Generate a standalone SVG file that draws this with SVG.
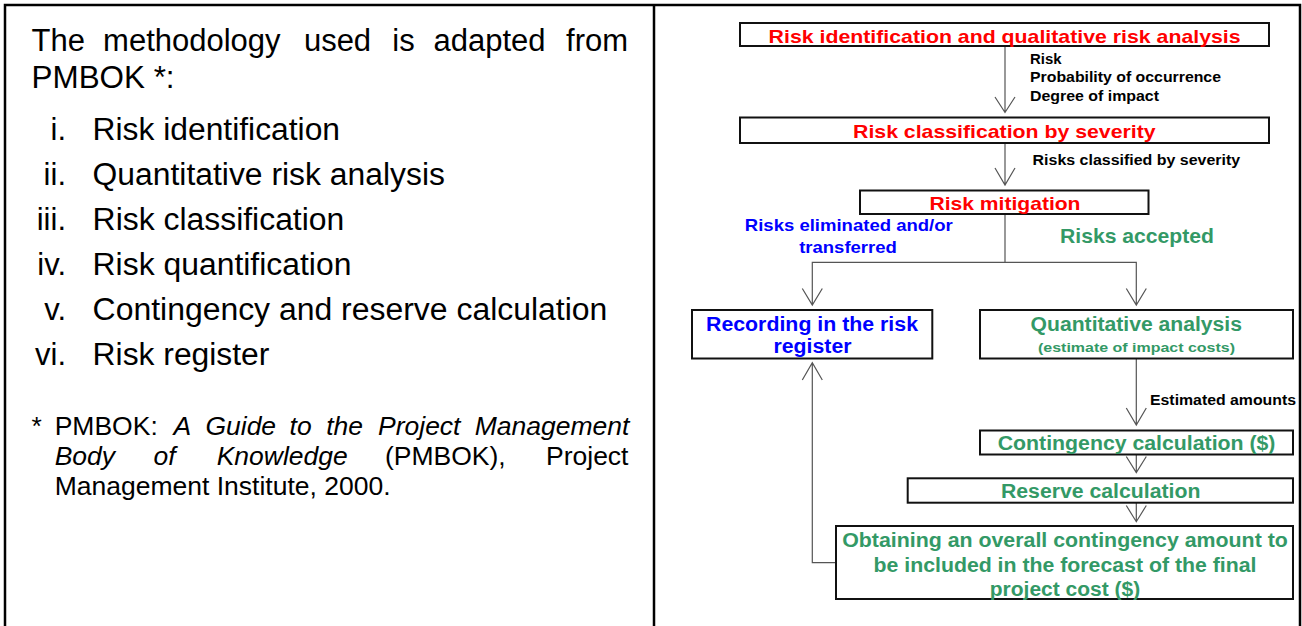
<svg xmlns="http://www.w3.org/2000/svg" width="1302" height="626" viewBox="0 0 1302 626">
<style>
.frame{fill:none;stroke:#000;stroke-width:2.5}
.box{fill:#fff;stroke:#111;stroke-width:2}
.con{fill:none;stroke:#555;stroke-width:1.2}
.big{font-family:"Liberation Sans",Arial,sans-serif;font-size:31px;fill:#000}
.foot{font-family:"Liberation Sans",Arial,sans-serif;font-size:26.5px;fill:#000}
.b{font-family:"Liberation Sans",Arial,sans-serif;font-weight:bold}
.red{fill:#ff0000;font-size:18.5px}
.blue{fill:#0000ff}
.green{fill:#339966}
.lbl{fill:#000;font-size:14.5px}
.mid{text-anchor:middle}
</style>
<rect width="1302" height="626" fill="#fff"/>
<g id="frame">
<path class="frame" d="M5,626 V5 H1300 V626 M654,5 V626"/>
</g>
<g id="left-text">
<text class="big" y="51"><tspan x="31.6">The</tspan><tspan x="103.1">methodology</tspan><tspan x="303.9">used</tspan><tspan x="392.3">is</tspan><tspan x="433.5">adapted</tspan><tspan x="566.1">from</tspan></text>
<text class="big" x="31.6" y="87.5" textLength="143" lengthAdjust="spacingAndGlyphs">PMBOK *:</text>
<g text-anchor="end" class="big">
<text class="big" x="66" y="140">i.</text>
<text class="big" x="66" y="184.5">ii.</text>
<text class="big" x="66" y="229.5">iii.</text>
<text class="big" x="66" y="274.5">iv.</text>
<text class="big" x="66" y="319.5">v.</text>
<text class="big" x="66" y="365">vi.</text>
</g>
<text class="big" x="92.6" y="140" textLength="247.4" lengthAdjust="spacingAndGlyphs">Risk identification</text>
<text class="big" x="92.6" y="184.5" textLength="352.3" lengthAdjust="spacingAndGlyphs">Quantitative risk analysis</text>
<text class="big" x="92.6" y="229.5" textLength="251.7" lengthAdjust="spacingAndGlyphs">Risk classification</text>
<text class="big" x="92.6" y="274.5" textLength="258.8" lengthAdjust="spacingAndGlyphs">Risk quantification</text>
<text class="big" x="92.6" y="319.5" textLength="514.7" lengthAdjust="spacingAndGlyphs">Contingency and reserve calculation</text>
<text class="big" x="92.6" y="365" textLength="176.8" lengthAdjust="spacingAndGlyphs">Risk register</text>
<text class="foot" x="31.6" y="435">*</text>
<text class="foot" y="435"><tspan x="54.7">PMBOK:</tspan><tspan x="173.4" font-style="italic">A</tspan><tspan x="205.4" font-style="italic">Guide</tspan><tspan x="289.6" font-style="italic">to</tspan><tspan x="326.2" font-style="italic">the</tspan><tspan x="378" font-style="italic">Project</tspan><tspan x="474.7" font-style="italic">Management</tspan></text>
<text class="foot" y="465"><tspan x="54.7" font-style="italic">Body</tspan><tspan x="153.6" font-style="italic">of</tspan><tspan x="216.7" font-style="italic">Knowledge</tspan><tspan x="385">(PMBOK),</tspan><tspan x="546">Project</tspan></text>
<text class="foot" x="54.7" y="495" textLength="335.9" lengthAdjust="spacingAndGlyphs">Management Institute, 2000.</text>
</g>
<g id="connectors">
<path class="con" d="M1005,46 V112.5 M995,97 L1005,112.5 L1015,97"/>
<path class="con" d="M1005,143 V185 M995,168 L1005,185 L1015,168"/>
<path class="con" d="M1005,214 V262.3 M812.3,305 V262.3 H1136.3 V305 M802.3,288.5 L812.3,305 L822.3,288.5 M1126.3,288.5 L1136.3,305 L1146.3,288.5"/>
<path class="con" d="M1136.3,358.5 V425 M1126.3,408 L1136.3,425 L1146.3,408"/>
<path class="con" d="M1136.3,454.5 V472.5 M1126.3,456.5 L1136.3,472.5 L1146.3,456.5"/>
<path class="con" d="M1136.3,502.7 V521.7 M1126.3,505.5 L1136.3,521.7 L1146.3,505.5"/>
<path class="con" d="M836,562.7 H812.3 V362.7 M802.3,380 L812.3,362.7 L822.3,380"/>
</g>
<g id="edge-labels" class="b">
<text class="b lbl" x="1030" y="63.5" textLength="31.5" lengthAdjust="spacingAndGlyphs">Risk</text>
<text class="b lbl" x="1030" y="82" textLength="191" lengthAdjust="spacingAndGlyphs">Probability of occurrence</text>
<text class="b lbl" x="1030" y="100.7" textLength="129" lengthAdjust="spacingAndGlyphs">Degree of impact</text>
<text class="b lbl" x="1032.6" y="165" textLength="207.5" lengthAdjust="spacingAndGlyphs">Risks classified by severity</text>
<text class="b blue mid" x="848.8" y="230.5" font-size="17" textLength="208" lengthAdjust="spacingAndGlyphs">Risks eliminated and/or</text>
<text class="b blue mid" x="848" y="252.5" font-size="17" textLength="97.7" lengthAdjust="spacingAndGlyphs">transferred</text>
<text class="b green mid" x="1137" y="243" font-size="21" textLength="154" lengthAdjust="spacingAndGlyphs">Risks accepted</text>
<text class="b lbl" x="1150" y="405" textLength="146" lengthAdjust="spacingAndGlyphs">Estimated amounts</text>
</g>
<g id="n1">
<rect class="box" x="740" y="23" width="529" height="23"/>
<text class="b red mid" x="1004.6" y="42.5" textLength="472" lengthAdjust="spacingAndGlyphs">Risk identification and qualitative risk analysis</text>
</g>
<g id="n2">
<rect class="box" x="740" y="117.5" width="529" height="25.5"/>
<text class="b red mid" x="1004.3" y="137.8" textLength="302.5" lengthAdjust="spacingAndGlyphs">Risk classification by severity</text>
</g>
<g id="n3">
<rect class="box" x="860" y="190.5" width="288.5" height="23.5"/>
<text class="b red mid" x="1005" y="209.5" textLength="151" lengthAdjust="spacingAndGlyphs">Risk mitigation</text>
</g>
<g id="n4">
<rect class="box" x="692" y="310" width="240.3" height="48.5"/>
<text class="b blue mid" x="812" y="330.8" font-size="19.5" textLength="212" lengthAdjust="spacingAndGlyphs">Recording in the risk</text>
<text class="b blue mid" x="812.5" y="353.2" font-size="19.5" textLength="78" lengthAdjust="spacingAndGlyphs">register</text>
</g>
<g id="n5">
<rect class="box" x="980" y="310" width="313" height="48.5"/>
<text class="b green mid" x="1136.3" y="330.8" font-size="19.5" textLength="211.4" lengthAdjust="spacingAndGlyphs">Quantitative analysis</text>
<text class="b green mid" x="1136.5" y="351.5" font-size="13.5" textLength="197" lengthAdjust="spacingAndGlyphs">(estimate of impact costs)</text>
</g>
<g id="n6">
<rect class="box" x="980" y="430.5" width="313" height="24"/>
<text class="b green mid" x="1136.6" y="450" font-size="19.5" textLength="277.7" lengthAdjust="spacingAndGlyphs">Contingency calculation ($)</text>
</g>
<g id="n7">
<rect class="box" x="907.7" y="478.3" width="385.3" height="24.4"/>
<text class="b green mid" x="1100.7" y="498" font-size="19.5" textLength="199.5" lengthAdjust="spacingAndGlyphs">Reserve calculation</text>
</g>
<g id="n8">
<rect class="box" x="836" y="526" width="457" height="73"/>
<text class="b green mid" x="1065" y="546.7" font-size="20" textLength="445.6" lengthAdjust="spacingAndGlyphs">Obtaining an overall contingency amount to</text>
<text class="b green mid" x="1065" y="571.5" font-size="20" textLength="383" lengthAdjust="spacingAndGlyphs">be included in the forecast of the final</text>
<text class="b green mid" x="1065" y="595.5" font-size="20" textLength="150.4" lengthAdjust="spacingAndGlyphs">project cost ($)</text>
</g>
</svg>
